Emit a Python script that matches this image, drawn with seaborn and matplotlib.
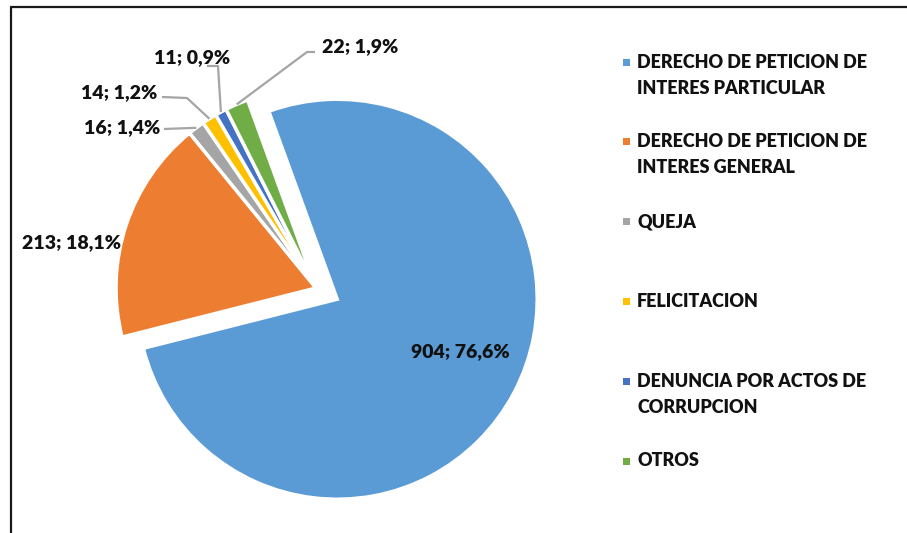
import numpy as np
import matplotlib.pyplot as plt
import seaborn as sns
from matplotlib.lines import Line2D
from matplotlib.patches import Rectangle

# data
categories = ["DERECHO DE PETICION DE\nINTERES PARTICULAR",
              "DERECHO DE PETICION DE\nINTERES GENERAL",
              "QUEJA",
              "FELICITACION",
              "DENUNCIA POR ACTOS DE\nCORRUPCION",
              "OTROS"]
counts = [904, 213, 16, 14, 11, 22]
colors = ["#5B9BD5", "#ED7D31", "#A5A5A5", "#FFC000", "#4472C4", "#70AD47"]

sns.set_theme(style="white")
plt.rcParams["font.family"] = ["Lato", "DejaVu Sans"]

W, H = 907, 533
CX, CY, R = 316, 288, 200


def px(x, y):
    # pixel position -> data units of the pie axes
    return (x - CX) / R, (CY - y) / R


fig = plt.figure(figsize=(W / 100, H / 100), dpi=100)
ax = fig.add_axes([0, 0, 1, 1])

wedges, _ = ax.pie(counts, colors=colors, startangle=110, counterclock=False,
                   explode=[0.12, 0, 0, 0, 0, 0],
                   wedgeprops=dict(edgecolor="white", linewidth=2.5))

ax.set_xlim(px(0, 0)[0], px(W, 0)[0])
ax.set_ylim(px(0, H)[1], px(0, 0)[1])
ax.set_aspect("equal")
ax.axis("off")

total = sum(counts)
labels = [f"{c}; {100 * c / total:.1f}%".replace(".", ",") for c in counts]
fs = 13
fl = 14
fw = 800
tc = "#111111"

# labels inside the big slices
ax.text(*px(460, 352), labels[0], ha="center", va="center", fontsize=fl, fontweight=fw, color=tc)
ax.text(*px(72, 243), labels[1], ha="center", va="center", fontsize=fl, fontweight=fw, color=tc)

# outside labels with leader lines: (text x, text y, ha, line points before the wedge)
outside = {
    2: (160, 128, "right", [(164, 129)]),
    3: (157, 93, "right", [(162, 97), (187, 98)]),
    4: (192, 58, "center", [(207, 66), (218, 66)]),
    5: (322, 47, "left", [(315, 52), (307, 52)]),
}
for i, (tx, ty, ha, pts) in outside.items():
    ax.text(*px(tx, ty), labels[i], ha=ha, va="center", fontsize=fl, fontweight=fw, color=tc)
    w = wedges[i]
    mid = np.deg2rad((w.theta1 + w.theta2) / 2)
    ex = w.center[0] + w.r * np.cos(mid)
    ey = w.center[1] + w.r * np.sin(mid)
    xs = [px(*p)[0] for p in pts] + [ex]
    ys = [px(*p)[1] for p in pts] + [ey]
    ax.plot(xs, ys, color="#A5A5A5", lw=1.6, solid_capstyle="butt")

# legend
for i, cat in enumerate(categories):
    y0 = 62 + 79.8 * i
    ax.add_patch(Rectangle(px(623, y0 + 3.5), 7 / R, 7 / R, color=colors[i], lw=0))
    for j, line in enumerate(cat.split("\n")):
        ax.text(*px(637, y0 + 26 * j), line, ha="left", va="center", fontsize=fs,
                fontweight=fw, color=tc)

# chart border (top and left edges visible)
fig.add_artist(Line2D([11 / W, 1], [1 - 7 / H, 1 - 7 / H], transform=fig.transFigure, color="#1a1a1a", lw=1.6))
fig.add_artist(Line2D([11 / W, 11 / W], [0, 1 - 7 / H], transform=fig.transFigure, color="#1a1a1a", lw=1.6))

fig.savefig("out.png", dpi=100)
